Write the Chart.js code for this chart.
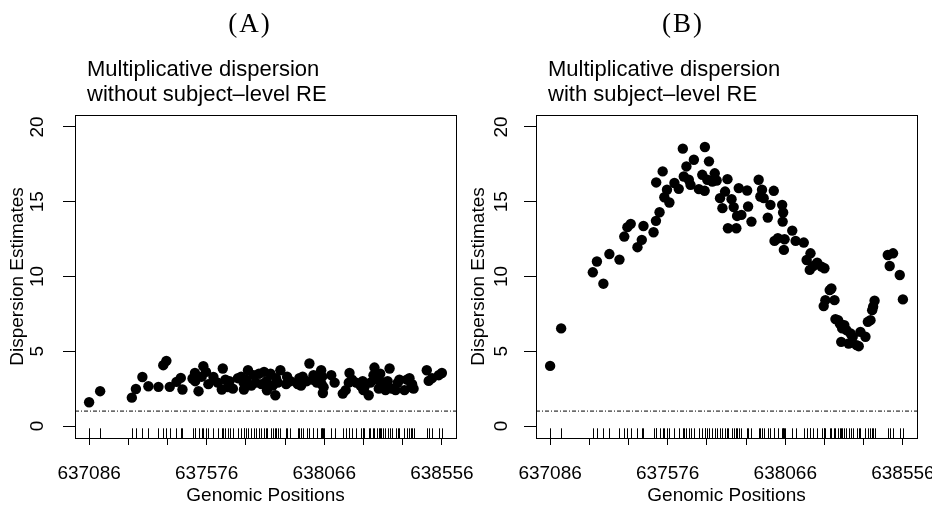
<!DOCTYPE html>
<html>
<head>
<meta charset="utf-8">
<script src="https://cdn.jsdelivr.net/npm/chart.js@4.4.1/dist/chart.umd.min.js"></script>
<style>
  html, body { margin: 0; padding: 0; background: #fff; overflow: hidden; width: 932px; height: 505px; position: relative; }
  canvas { position: absolute; top: 0; }
  #panelA { left: 0; }
  #panelB { left: 461px; }
</style>
</head>
<body>
<canvas id="panelA" width="510" height="505"></canvas>
<canvas id="panelB" width="510" height="505"></canvas>
<script>
// genomic positions of the CpG sites (shared by both panels)
var positions = [
  637086, 637132, 637264, 637281, 637308, 637333, 637375, 637395, 637408, 637422,
  637450, 637468, 637475, 637517, 637527, 637528, 637542, 637555, 637562, 637573,
  637583, 637604, 637622, 637639, 637643, 637654, 637664, 637671, 637685, 637706,
  637720, 637730, 637731, 637741, 637748, 637762, 637772, 637780, 637794, 637804,
  637815, 637825, 637827, 637842, 637851, 637862, 637865, 637872, 637883, 637907,
  637911, 637925, 637955, 637962, 637969, 637976, 637993, 638004, 638018, 638021,
  638035, 638053, 638055, 638057, 638060, 638063, 638095, 638109, 638143, 638155,
  638168, 638171, 638182, 638199, 638217, 638226, 638229, 638233, 638251, 638258,
  638271, 638275, 638286, 638293, 638299, 638303, 638312, 638321, 638330, 638338,
  638347, 638363, 638372, 638379, 638400, 638410, 638421, 638428, 638432, 638438,
  638493, 638501, 638515, 638543, 638556
];

// (A) without subject-level RE
var dispA = [
  1.59, 2.33, 1.90, 2.48, 3.28, 2.66, 2.62, 4.07, 4.36, 2.62,
  2.95, 3.22, 2.44, 3.18, 3.55, 3.00, 2.33, 3.30, 4.00, 3.62,
  2.80, 3.28, 2.90, 2.44, 3.85, 3.10, 2.60, 3.00, 2.50, 3.20,
  3.30, 2.90, 2.44, 3.10, 3.73, 2.70, 3.40, 2.90, 3.50, 2.80,
  3.62, 3.00, 2.39, 3.50, 2.70, 2.06, 3.20, 2.90, 3.73, 2.80,
  3.30, 3.00, 2.80, 3.20, 2.70, 3.30, 3.00, 4.18, 3.10, 3.40,
  2.90, 3.73, 2.80, 3.30, 2.21, 2.60, 3.40, 2.90, 2.17, 2.40,
  2.90, 3.55, 3.10, 2.90, 2.70, 3.00, 2.40, 2.60, 2.06, 2.90,
  3.40, 3.91, 3.10, 2.50, 3.50, 2.70, 2.90, 2.40, 3.00, 3.85,
  2.50, 2.40, 2.90, 3.10, 2.40, 3.10, 3.20, 2.60, 2.80, 2.50,
  3.73, 3.02, 3.20, 3.40, 3.55
];

// (B) with subject-level RE
var dispB = [
  4.02, 6.53, 10.28, 11.00, 9.52, 11.50, 11.13, 12.67, 13.30, 13.52,
  11.96, 12.45, 13.38, 12.96, 13.72, 16.29, 14.30, 17.03, 15.30, 15.80,
  14.95, 16.25, 15.86, 18.55, 16.69, 17.36, 16.47, 16.13, 17.81, 15.84,
  16.80, 15.73, 18.66, 16.47, 17.70, 16.35, 16.90, 16.42, 15.24, 14.57,
  15.68, 16.51, 13.23, 15.17, 14.64, 13.23, 14.05, 15.91, 14.12, 15.75,
  14.68, 13.67, 16.47, 15.35, 15.80, 15.24, 13.94, 14.79, 15.73, 12.38,
  12.56, 14.79, 13.67, 14.28, 11.78, 12.49, 13.07, 12.38, 12.27, 11.10,
  10.44, 11.55, 10.70, 10.93, 10.66, 8.02, 10.55, 8.42, 9.09, 9.20,
  8.42, 7.15, 7.08, 6.86, 5.63, 6.53, 6.75, 6.41, 5.52, 6.19,
  5.97, 5.41, 5.34, 6.30, 5.97, 6.97, 7.08, 7.75, 7.98, 8.38,
  11.44, 10.70, 11.55, 10.10, 8.47
];

var xTicks = [637086, 637249.33, 637412.67, 637576, 637739.33, 637902.67, 638066, 638229.33, 638392.67, 638556];
var xTickLabels = ['637086', '', '', '637576', '', '', '638066', '', '', '638556'];
var yTicks = [0, 5, 10, 15, 20];
var yTickLabels = ['0', '5', '10', '15', '20'];

// axis limits as R sets them (range plus 4%)
var xMin = 637027.2, xMax = 638614.8;
var yMin = -0.8, yMax = 20.8;
var refLevel = 1;

var sans = '"Liberation Sans", Arial, sans-serif';

// box, rug and the panel headings
var panelText = {
  id: 'panelText',
  afterDatasetsDraw: function (chart) {
    var ctx = chart.ctx, a = chart.chartArea, xs = chart.scales.x;
    ctx.save();
    ctx.strokeStyle = '#000';
    ctx.lineWidth = 1;
    var rugLen = (a.bottom - a.top) * 0.03;
    for (var i = 0; i < positions.length; i++) {
      var px = Math.round(xs.getPixelForValue(positions[i])) + 0.5;
      ctx.beginPath();
      ctx.moveTo(px, a.bottom);
      ctx.lineTo(px, a.bottom - rugLen);
      ctx.stroke();
    }
    ctx.strokeRect(Math.round(a.left) + 0.5, Math.round(a.top) + 0.5,
      Math.round(a.right - a.left), Math.round(a.bottom - a.top));
    ctx.restore();
  },
  afterDraw: function (chart, args, opts) {
    var ctx = chart.ctx;
    ctx.save();
    ctx.fillStyle = '#000';
    ctx.textBaseline = 'alphabetic';
    ctx.font = '27px "Liberation Serif", "Times New Roman", serif';
    ctx.letterSpacing = '2px';
    ctx.textAlign = 'center';
    ctx.fillText(opts.letter, opts.letterX, 32);
    ctx.letterSpacing = '0px';
    ctx.font = '22px ' + sans;
    ctx.textAlign = 'left';
    ctx.fillText(opts.lines[0], opts.textX, 76);
    ctx.fillText(opts.lines[1], opts.textX, 101);
    ctx.restore();
  }
};

function makeChart(id, values, letter, letterX, lines, yPad) {
  return new Chart(document.getElementById(id), {
    type: 'scatter',
    data: {
      datasets: [{
        data: positions.map(function (p, i) { return { x: p, y: values[i] }; }),
        backgroundColor: '#000',
        borderWidth: 0,
        pointRadius: 5.2,
        pointHoverRadius: 5.2
      }, {
        data: [{ x: xMin, y: refLevel }, { x: xMax, y: refLevel }],
        showLine: true,
        borderColor: '#000',
        borderWidth: 1,
        borderDash: [4, 2, 1, 2],
        pointRadius: 0
      }]
    },
    options: {
      responsive: false,
      animation: false,
      devicePixelRatio: 1,
      layout: { padding: { top: 115, left: 0, right: 54, bottom: 0 } },
      plugins: {
        legend: { display: false },
        tooltip: { enabled: false },
        panelText: { letter: letter, letterX: letterX, textX: 87, lines: lines }
      },
      scales: {
        x: {
          type: 'linear',
          min: xMin,
          max: xMax,
          afterFit: function (s) { s.height = 67; },
          afterBuildTicks: function (s) { s.ticks = xTicks.map(function (v) { return { value: v }; }); },
          grid: { drawOnChartArea: false, drawTicks: true, tickLength: 7, color: '#000', lineWidth: 1 },
          border: { display: false },
          ticks: {
            autoSkip: false, maxRotation: 0, minRotation: 0, padding: 17, color: '#000',
            font: { family: sans, size: 19 },
            callback: function (v, i) { return xTickLabels[i]; }
          },
          title: {
            display: true, text: 'Genomic Positions', color: '#000',
            font: { family: sans, size: 19, lineHeight: 1 }, padding: { top: 0, bottom: 0 }
          }
        },
        y: {
          min: yMin,
          max: yMax,
          afterFit: function (s) { s.width = 75; },
          afterBuildTicks: function (s) { s.ticks = yTicks.map(function (v) { return { value: v }; }); },
          grid: { drawOnChartArea: false, drawTicks: true, tickLength: 12, color: '#000', lineWidth: 1 },
          border: { display: false },
          ticks: {
            minRotation: 90, maxRotation: 90, crossAlign: 'center', padding: yPad, color: '#000',
            font: { family: sans, size: 19 },
            callback: function (v, i) { return yTickLabels[i]; }
          },
          title: {
            display: true, text: 'Dispersion Estimates', color: '#000',
            font: { family: sans, size: 19, lineHeight: 1 }, padding: { top: 8.5, bottom: 0 }
          }
        }
      }
    },
    plugins: [panelText]
  });
}

makeChart('panelA', dispA, '(A)', 250, ['Multiplicative dispersion', 'without subject\u2013level RE'], 15);
makeChart('panelB', dispB, '(B)', 222, ['Multiplicative dispersion', 'with subject\u2013level RE'], 12);
</script>
</body>
</html>
